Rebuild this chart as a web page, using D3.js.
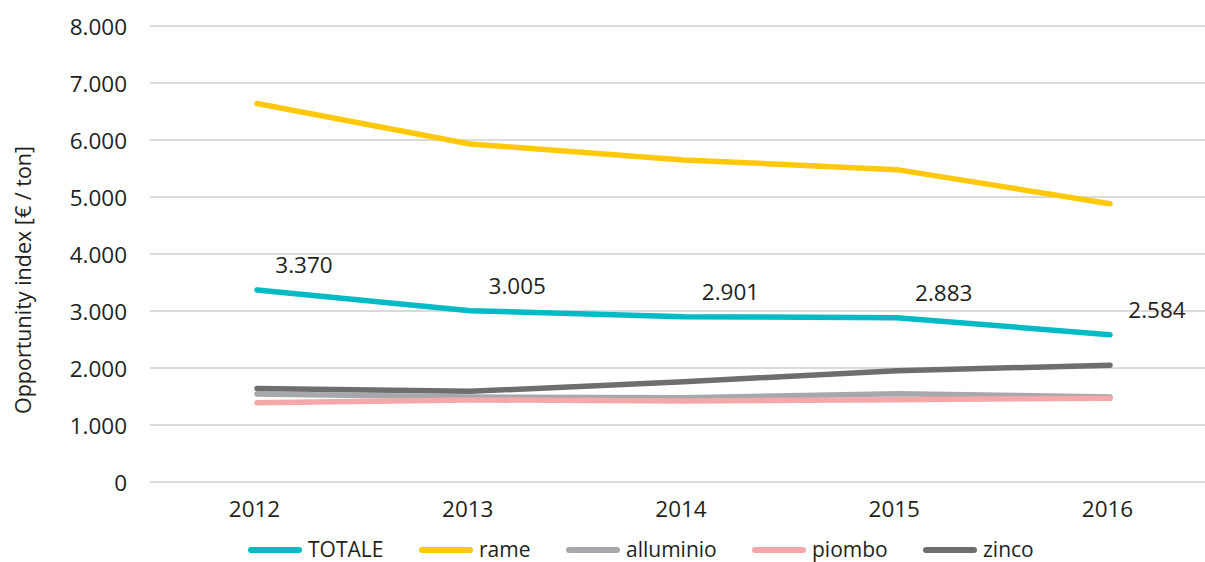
<!DOCTYPE html>
<html>
<head>
<meta charset="utf-8">
<script src="https://cdn.jsdelivr.net/npm/d3@7"></script>
<style>
  html, body { margin: 0; padding: 0; background: #fff; }
  svg { display: block; }
  text { font-family: "Open Sans", "Noto Sans", sans-serif; fill: #231f20; }
</style>
</head>
<body>
<svg id="chart" width="1205" height="562"></svg>
<script>
// Opportunity index by metal, 2012–2016 (€ / ton)
const years = ["2012", "2013", "2014", "2015", "2016"];
const totale = [3370, 3005, 2901, 2883, 2584];
const rame = [6640, 5930, 5650, 5480, 4880];
const alluminio = [1545, 1490, 1480, 1550, 1490];
const piombo = [1390, 1440, 1420, 1445, 1470];
const zinco = [1640, 1590, 1760, 1950, 2050];
const yTicks = [0, 1000, 2000, 3000, 4000, 5000, 6000, 7000, 8000];

const series = [
  { name: "TOTALE", values: totale, color: "#00bac6" },
  { name: "rame", values: rame, color: "#ffc90a" },
  { name: "alluminio", values: alluminio, color: "#a7a8ab" },
  { name: "piombo", values: piombo, color: "#f5a8aa" },
  { name: "zinco", values: zinco, color: "#6d6e70" }
];

const fmt = v => d3.format(",")(v).replace(/,/g, ".");

const svg = d3.select("#chart");
const plotLeft = 150, plotRight = 1205;

const x = d3.scalePoint().domain(years).range([257, 1110]);
const y = d3.scaleLinear().domain([0, 8000]).range([482, 26]);

// horizontal gridlines
svg.append("g")
  .selectAll("line")
  .data(yTicks)
  .join("line")
  .attr("x1", plotLeft).attr("x2", plotRight)
  .attr("y1", d => y(d)).attr("y2", d => y(d))
  .attr("stroke", "#cfcfd1").attr("stroke-width", 1.3);

// y axis labels
const yAxis = d3.axisLeft(y).tickValues(yTicks).tickFormat(fmt).tickSize(0).tickPadding(0);
const yg = svg.append("g").attr("transform", "translate(127,0)").call(yAxis);
yg.select(".domain").remove();
yg.selectAll("text").attr("font-size", 22.5).attr("dy", "0.36em")
  .style("font-family", "'Open Sans', sans-serif").attr("fill", "#231f20");

// x axis labels
const xAxis = d3.axisBottom(x).tickSize(0).tickPadding(0);
const xg = svg.append("g").attr("transform", "translate(-3,500)").call(xAxis);
xg.select(".domain").remove();
xg.selectAll("text").attr("font-size", 22.5).attr("dy", "0.77em")
  .style("font-family", "'Open Sans', sans-serif").attr("fill", "#231f20");

// axis title
svg.append("text")
  .attr("transform", "translate(31,280) rotate(-90)")
  .attr("text-anchor", "middle")
  .attr("font-size", 21.5)
  .text("Opportunity index [€ / ton]");

// series lines
const line = d3.line()
  .x((d, i) => x(years[i]))
  .y(d => y(d));

svg.append("g")
  .selectAll("path")
  .data(series)
  .join("path")
  .attr("d", d => line(d.values))
  .attr("fill", "none")
  .attr("stroke", d => d.color)
  .attr("stroke-width", 5.5)
  .attr("stroke-linecap", "round")
  .attr("stroke-linejoin", "round");

// data labels on the total
svg.append("g")
  .selectAll("text")
  .data(totale)
  .join("text")
  .attr("x", (d, i) => x(years[i]) + 47)
  .attr("y", d => y(d) - 17)
  .attr("text-anchor", "middle")
  .attr("font-size", 22.5)
  .text(d => fmt(d));

// legend
const legendX = [248, 419, 566, 752, 923];
const lg = svg.append("g").attr("transform", "translate(0,550)");
const items = lg.selectAll("g").data(series).join("g")
  .attr("transform", (d, i) => `translate(${legendX[i]},0)`);
items.append("line")
  .attr("x1", 3).attr("x2", 51).attr("y1", 0).attr("y2", 0)
  .attr("stroke", d => d.color).attr("stroke-width", 6)
  .attr("stroke-linecap", "round");
items.append("text")
  .attr("x", 60).attr("y", 0).attr("dy", "0.35em")
  .attr("font-size", 21)
  .text(d => d.name);
</script>
</body>
</html>
